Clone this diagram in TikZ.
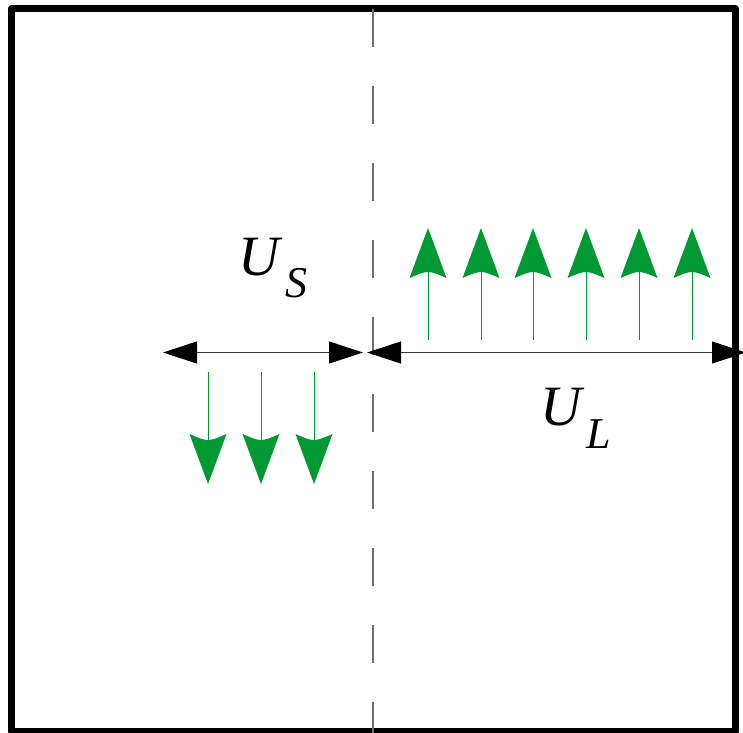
\documentclass[tikz,border=0pt]{standalone}
\usepackage{fontspec}
\setmainfont{Liberation Serif}
\usetikzlibrary{arrows.meta}
\definecolor{flowgreen}{RGB}{0,153,51}
\definecolor{dashgray}{RGB}{110,110,110}
\definecolor{dimgray}{RGB}{60,60,60}
\tikzset{
  frame/.style={line width=7pt, line join=round},
  midline/.style={draw=dashgray, line width=1.6pt, dash pattern=on 38pt off 39pt},
  dimarrow/.style={draw=dimgray, line width=1.1pt, {Triangle[length=34pt,width=22pt,black]}-{Triangle[length=34pt,width=22pt,black]}},
  flowline/.style={draw=flowgreen, line width=1pt},
  flowhead/.pic={\fill[flowgreen] (0,0) -- (-18.5,-50) .. controls (0,-42) .. (18.5,-50) -- cycle;},
  bigU/.style={inner sep=0pt, font=\fontsize{57}{57}\selectfont\itshape},
  subL/.style={inner sep=0pt, font=\fontsize{44}{44}\selectfont\itshape},
}
\begin{document}
\begin{tikzpicture}[x=1pt,y=-1pt]
\useasboundingbox (0,0) rectangle (743,732);
\draw[frame] (11.5,8.8) rectangle (735.3,731.5);
\coordinate (dtop) at (372.7,9);
\coordinate (dbot) at (372.7,735);
\draw[midline] (dtop) -- (dbot);
% dimension arrows
\coordinate (sL) at (163,352.5);
\coordinate (sR) at (363,352.5);
\coordinate (lL) at (367,352.5);
\coordinate (lR) at (746,352.5);
\draw[dimarrow] (sL) -- (sR);
\draw[dimarrow] (lL) -- (lR);
% down arrows
\foreach \i/\x in {1/208,2/261,3/314}{
  \coordinate (ds\i) at (\x,372);
  \coordinate (de\i) at (\x,440);
  \coordinate (dt\i) at (\x,484);
  \draw[flowline] (ds\i) -- (de\i);
  \pic at (dt\i) {flowhead};
}
% up arrows
\foreach \i/\x in {1/428,2/481,3/533,4/586,5/639,6/692}{
  \coordinate (us\i) at (\x,340);
  \coordinate (ue\i) at (\x,272);
  \coordinate (ut\i) at (\x,228);
  \draw[flowline] (us\i) -- (ue\i);
  \pic[rotate=180] at (ut\i) {flowhead};
}
% labels
\node[bigU, anchor=base west] (US) at (238,275) {U};
\node[subL, anchor=base west] (USs) at (285,297) {S};
\node[bigU, anchor=base west] (UL) at (540,425) {U};
\node[subL, anchor=base west] (ULs) at (586,448) {L};
\end{tikzpicture}
\end{document}
